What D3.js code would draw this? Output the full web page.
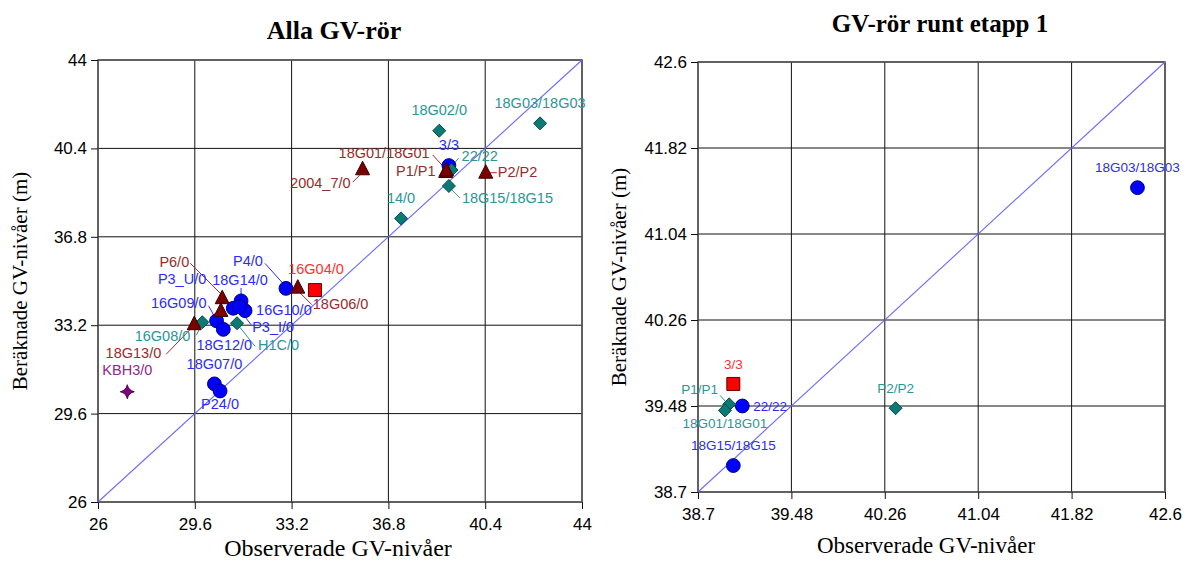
<!DOCTYPE html>
<html>
<head>
<meta charset="utf-8">
<script src="https://cdn.jsdelivr.net/npm/d3@7"></script>
<style>
  html, body { margin: 0; padding: 0; background: #fff; }
  svg { display: block; }
</style>
</head>
<body>
<svg id="chart" width="1192" height="563"></svg>
<script>
// ---------- DATA ----------
// Left chart: "Alla GV-rör"
const leftNames = ["18G02/0","18G03/18G03","3/3","22/22","18G01/18G01","P1/P1","P2/P2","18G15/18G15",
  "2004_7/0","14/0","P4/0","16G04/0","18G06/0","P6/0","","18G14/0","P3_U/0","16G10/0","P3_I/0",
  "16G09/0","18G12/0","16G08/0","H1C/0","18G13/0","18G07/0","P24/0","KBH3/0"];
const leftObserved = [38.69,42.44,39.05,39.15,38.93,38.96,40.42,39.05,
  35.84,37.27,32.99,34.07,33.43,30.62,30.57,31.32,31.03,31.47,31.25,
  30.41,30.66,29.88,31.17,29.58,30.33,30.54,27.09];
const leftComputed = [41.12,41.42,39.70,39.52,39.44,39.50,39.41,38.87,
  39.55,37.55,34.70,34.63,34.73,34.30,33.78,34.19,33.89,33.79,33.95,
  33.38,33.03,33.32,33.28,33.24,30.81,30.52,30.49];
const leftGroups = ["teal","teal","blue","teal","darkred","darkred","darkred","teal",
  "darkred","teal","blue","red","darkred","darkred","darkred","blue","blue","blue","blue",
  "blue","blue","teal","teal","darkred","blue","blue","purple"];
const leftTicks = [26, 29.6, 33.2, 36.8, 40.4, 44];

// Right chart: "GV-rör runt etapp 1"
const rightNames = ["3/3","P1/P1","18G01/18G01","22/22","18G15/18G15","P2/P2","18G03/18G03"];
const rightObserved = [38.995,38.96,38.925,39.07,38.995,40.35,42.37];
const rightComputed = [39.68,39.495,39.44,39.48,38.94,39.46,41.46];
const rightGroups = ["red","teal","teal","blue","blue","teal","blue"];
const rightTicks = [38.7, 39.48, 40.26, 41.04, 41.82, 42.6];

// ---------- STYLE / LAYOUT ----------
const groupStyle = {
  blue:    {shape: "circle",   fill: "#0000ff", stroke: "#000080", text: "#2b2bff"},
  teal:    {shape: "diamond",  fill: "#0b7a75", stroke: "#064a47", text: "#2a9696"},
  darkred: {shape: "triangle", fill: "#7a0000", stroke: "#3a0000", text: "#962c2c"},
  red:     {shape: "square",   fill: "#ff0000", stroke: "#600000", text: "#ff3030"},
  purple:  {shape: "star",     fill: "#800080", stroke: "#500050", text: "#8e2a8e"}
};
const drawOrder = ["blue","teal","darkred","red","purple"];

// label placement: dx,dy of text middle relative to point, anchor, optional leader [x1,y1,x2,y2]
const leftLabelLayout = {
  "18G02/0": {dx:0, dy:-20, a:"middle"},
  "18G03/18G03": {dx:0, dy:-19, a:"middle"},
  "3/3": {dx:0, dy:-19, a:"middle"},
  "22/22": {dx:10, dy:-13, a:"start", l:[3,-7,7,-12]},
  "18G01/18G01": {dx:-16, dy:-18, a:"end", l:[-13,-17,-1,-4]},
  "P1/P1": {dx:-11, dy:2, a:"end"},
  "P2/P2": {dx:12, dy:0, a:"start", l:[4,0,11,0]},
  "18G15/18G15": {dx:13, dy:13, a:"start", l:[1,2,11,12]},
  "2004_7/0": {dx:-12, dy:15, a:"end", l:[-10,13,-3,6]},
  "14/0": {dx:0, dy:-19, a:"middle"},
  "P4/0": {dx:-23, dy:-26, a:"end", l:[-21,-25,-3,-5]},
  "16G04/0": {dx:1, dy:-20, a:"middle"},
  "18G06/0": {dx:15, dy:18, a:"start", l:[1,4,14,17]},
  "P6/0": {dx:-33, dy:-35, a:"end", l:[-32,-35,-1,-4]},
  "18G14/0": {dx:-1, dy:-20, a:"middle", l:[0,-13,0,-5]},
  "P3_U/0": {dx:-27, dy:-28, a:"end"},
  "16G10/0": {dx:11, dy:0, a:"start"},
  "P3_I/0": {dx:13, dy:21, a:"start", l:[12,18,2,5]},
  "16G09/0": {dx:-10, dy:-17, a:"end", l:[-8,-15,-2,-4]},
  "18G12/0": {dx:1, dy:17, a:"middle"},
  "16G08/0": {dx:-12, dy:15, a:"end", l:[-6,13,-2,5]},
  "H1C/0": {dx:21, dy:23, a:"start", l:[18,23,2,3]},
  "18G13/0": {dx:-33, dy:30, a:"end", l:[-28,30,-1,2]},
  "18G07/0": {dx:0, dy:-19, a:"middle"},
  "P24/0": {dx:0, dy:14, a:"middle"},
  "KBH3/0": {dx:0, dy:-21, a:"middle"}
};
const rightLabelLayout = {
  "3/3": {dx:0, dy:-19, a:"middle"},
  "P1/P1": {dx:-11, dy:-14, a:"end", l:[-9,-9,-2,-1]},
  "18G01/18G01": {dx:0, dy:14, a:"middle"},
  "22/22": {dx:11, dy:1, a:"start"},
  "18G15/18G15": {dx:0, dy:-19, a:"middle"},
  "P2/P2": {dx:0, dy:-19, a:"middle"},
  "18G03/18G03": {dx:0, dy:-19, a:"middle"}
};

const svg = d3.select("#chart");
svg.append("rect").attr("width", 1192).attr("height", 563).attr("fill", "#fff");

function symbolPath(shape) {
  switch (shape) {
    case "circle": return d3.symbol().type(d3.symbolCircle).size(150)();
    case "diamond": return "M0,-6.5L6.5,0L0,6.5L-6.5,0Z";
    case "triangle": return "M0,-8L7,5.5L-7,5.5Z";
    case "square": return "M-6.5,-6.5H6.5V6.5H-6.5Z";
    case "star": return "M0,-7Q1.2,-1.2 7,0Q1.2,1.2 0,7Q-1.2,1.2 -7,0Q-1.2,-1.2 0,-7Z";
  }
}

function drawPanel(cfg) {
  const {x0, x1, y0, y1, ticks, names, obs, comp, groups, layout, title, titleX, titleY, titleSize,
         xTitleX, xTitleY, yTitleX, yTitleY, axisTitleSize, labelSize} = cfg;
  const x = d3.scaleLinear().domain([ticks[0], ticks[ticks.length - 1]]).range([x0, x1]);
  const y = d3.scaleLinear().domain([ticks[0], ticks[ticks.length - 1]]).range([y1, y0]);
  const g = svg.append("g");

  // grid
  g.selectAll(".vg").data(ticks).join("line")
    .attr("x1", d => x(d)).attr("x2", d => x(d)).attr("y1", y0).attr("y2", y1)
    .attr("stroke", "#111").attr("stroke-width", 1);
  g.selectAll(".hg").data(ticks).join("line")
    .attr("y1", d => y(d)).attr("y2", d => y(d)).attr("x1", x0).attr("x2", x1)
    .attr("stroke", "#111").attr("stroke-width", 1);
  g.append("rect").attr("x", x0).attr("y", y0).attr("width", x1 - x0).attr("height", y1 - y0)
    .attr("fill", "none").attr("stroke", "#555").attr("stroke-width", 1.5);

  // axes via d3 axis
  const xAxis = d3.axisBottom(x).tickValues(ticks).tickSize(7).tickPadding(4).tickFormat(d3.format(""));
  const yAxis = d3.axisLeft(y).tickValues(ticks).tickSize(7).tickPadding(4).tickFormat(d3.format(""));
  const gx = g.append("g").attr("transform", `translate(0,${y1})`).call(xAxis);
  const gy = g.append("g").attr("transform", `translate(${x0},0)`).call(yAxis);
  [gx, gy].forEach(a => {
    a.select(".domain").remove();
    a.selectAll("line").attr("stroke", "#111");
    a.selectAll("text").attr("fill", "#000").style("font-family", "'Liberation Sans', Arial, sans-serif")
      .style("font-size", "17px");
  });
  gx.selectAll("text").attr("dy", "1em");

  // 1:1 line
  g.append("line")
    .attr("x1", x(ticks[0])).attr("y1", y(ticks[0]))
    .attr("x2", x(ticks[ticks.length - 1])).attr("y2", y(ticks[ticks.length - 1]))
    .attr("stroke", "#6a6aff").attr("stroke-width", 1.1);

  const pts = names.map((n, i) => ({name: n, ox: obs[i], cy: comp[i], grp: groups[i]}));

  // leader lines
  pts.forEach(p => {
    const L = layout[p.name];
    if (L && L.l) {
      g.append("line")
        .attr("x1", x(p.ox) + L.l[0]).attr("y1", y(p.cy) + L.l[1])
        .attr("x2", x(p.ox) + L.l[2]).attr("y2", y(p.cy) + L.l[3])
        .attr("stroke", groupStyle[p.grp].text).attr("stroke-width", 1);
    }
  });

  // markers
  drawOrder.forEach(grp => {
    g.selectAll(null).data(pts.filter(p => p.grp === grp)).join("path")
      .attr("d", d => symbolPath(groupStyle[d.grp].shape))
      .attr("transform", d => `translate(${x(d.ox)},${y(d.cy)})`)
      .attr("fill", d => groupStyle[d.grp].fill)
      .attr("stroke", d => groupStyle[d.grp].stroke)
      .attr("stroke-width", 1);
  });

  // labels
  pts.forEach(p => {
    const L = layout[p.name];
    if (!L || !p.name) return;
    g.append("text")
      .attr("x", x(p.ox) + L.dx).attr("y", y(p.cy) + L.dy)
      .attr("text-anchor", L.a).attr("dominant-baseline", "middle")
      .attr("fill", groupStyle[p.grp].text)
      .style("font-family", "'Liberation Sans', Arial, sans-serif")
      .style("font-size", labelSize + "px")
      .text(p.name);
  });

  // titles
  svg.append("text").attr("x", titleX).attr("y", titleY).attr("text-anchor", "middle")
    .style("font-family", "'Liberation Serif', 'Times New Roman', serif").style("font-weight", "bold")
    .style("font-size", titleSize + "px").text(title);
  svg.append("text").attr("x", xTitleX).attr("y", xTitleY).attr("text-anchor", "middle")
    .style("font-family", "'Liberation Serif', 'Times New Roman', serif")
    .style("font-size", axisTitleSize + "px").text("Observerade GV-nivåer");
  svg.append("text").attr("transform", `translate(${yTitleX},${yTitleY}) rotate(-90)`)
    .attr("text-anchor", "middle")
    .style("font-family", "'Liberation Serif', 'Times New Roman', serif")
    .style("font-size", "21px").text("Beräknade GV-nivåer (m)");
}

drawPanel({x0: 98, x1: 582, y0: 60, y1: 502, ticks: leftTicks,
  names: leftNames, obs: leftObserved, comp: leftComputed, groups: leftGroups, layout: leftLabelLayout,
  title: "Alla GV-rör", titleX: 334, titleY: 39, titleSize: 26,
  xTitleX: 338, xTitleY: 556, axisTitleSize: 24, yTitleX: 27, yTitleY: 281,
  labelSize: 14.5});

drawPanel({x0: 698, x1: 1165, y0: 62, y1: 492, ticks: rightTicks,
  names: rightNames, obs: rightObserved, comp: rightComputed, groups: rightGroups, layout: rightLabelLayout,
  title: "GV-rör runt etapp 1", titleX: 940, titleY: 32, titleSize: 25,
  xTitleX: 926, xTitleY: 553, axisTitleSize: 23, yTitleX: 626, yTitleY: 277,
  labelSize: 13.5});
</script>
</body>
</html>
